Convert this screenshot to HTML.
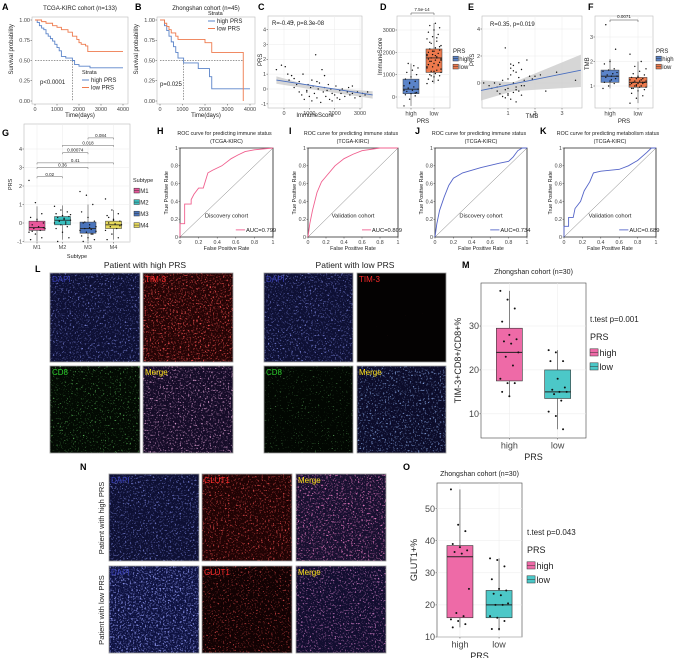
<!DOCTYPE html>
<html><head><meta charset="utf-8"><style>
html,body{margin:0;padding:0;background:#fff;}
svg{display:block;font-family:"Liberation Sans",Arial,sans-serif;}
</style></head><body>
<svg id="fig" width="677" height="658" viewBox="0 0 677 658" xmlns="http://www.w3.org/2000/svg">
<defs id="defs"></defs>
</svg>
<script>
// ---------- DATA ----------
const kmTimes_A_high=[0,100,200,300,400,500,600,700,800,900,1000,1100,1200,1400,1700,1800,2000,2500,4000];
const kmSurv_A_high=[1,0.97,0.93,0.9,0.88,0.83,0.8,0.77,0.74,0.7,0.66,0.62,0.55,0.53,0.5,0.45,0.43,0.41,0.41];
const kmTimes_A_low=[0,300,500,800,1000,1200,1500,1700,1900,2000,2100,2300,2400,4000];
const kmSurv_A_low=[1,0.98,0.96,0.93,0.91,0.88,0.85,0.8,0.76,0.72,0.7,0.68,0.61,0.61];
const kmTimes_B_high=[0,200,300,400,500,600,700,800,1050,1500,1700,2100,2200,2300,4000];
const kmSurv_B_high=[1,0.93,0.87,0.8,0.73,0.67,0.6,0.53,0.47,0.47,0.4,0.4,0.3,0.15,0.15];
const kmTimes_B_low=[0,200,300,400,500,700,800,2000,2300,3700,3700];
const kmSurv_B_low=[1,0.96,0.92,0.88,0.84,0.8,0.76,0.72,0.6,0.6,0];
const kmXTicks=[0,1000,2000,3000,4000];
const kmYTicks=[0,0.25,0.5,0.75,1];

const C_immune=[-300,-100,50,150,200,300,350,400,500,600,700,750,800,900,950,1000,1050,1100,1150,1200,1250,1300,1350,1400,1450,1500,1550,1600,1650,1700,1750,1800,1850,1900,2000,2050,2100,2200,2250,2300,2400,2500,2550,2600,2700,2800,2900,3000,3100,3200,3300,1600,1300,400,900,1900,2700,600,1100,2200];
const C_prs=[1.3,1.6,1.5,1.0,0.6,0.9,4.5,0.7,0.3,0.5,-0.4,1.0,-0.7,-0.2,0.3,-0.5,0.1,-0.8,0.2,-0.3,2.3,-0.6,0.0,0.4,-0.9,1.3,-0.2,0.1,-0.5,-0.1,0.3,-0.7,0.0,-0.3,-0.4,0.2,-0.6,-0.1,-0.3,0.0,-0.5,-0.2,0.1,-0.4,-0.3,-0.6,-0.2,-0.5,-0.3,-0.4,-0.2,0.9,0.5,0.1,-0.1,-0.8,0.2,-0.2,0.6,-0.7];

const D_high=[-400,-100,50,100,150,200,250,300,350,400,450,500,600,700,800,900,1000,1100,1200,1300,1500,1400,300,650,180];
const D_low=[600,700,750,800,900,950,1000,1050,1100,1150,1200,1300,1350,1400,1450,1500,1550,1600,1650,1700,1750,1800,1850,1900,1950,2000,2050,2100,2150,2200,2300,2400,2500,2600,2700,2800,2900,3000,3100,3200,3300,1250,1600,1750,1900,2050,1450,1700,1150,2250,2450,1850,1650,950,2650,1350];
const D_highStats=[-400,150,350,800,1500];
const D_lowStats=[600,1100,1750,2150,3300];

const E_tmb=[0.1,0.3,0.4,0.5,0.6,0.6,0.7,0.7,0.8,0.8,0.9,0.9,1.0,1.0,1.0,1.1,1.1,1.1,1.2,1.2,1.2,1.3,1.3,1.3,1.4,1.4,1.4,1.5,1.5,1.6,1.6,1.7,1.8,1.9,2.0,2.2,2.4,2.8,3.5,0.9,1.2,1.0,1.3,1.1,1.5];
const E_prs=[0.0,-0.2,-0.4,0.0,-0.3,-0.6,-0.8,-0.1,-1.0,0.2,-0.5,2.6,-0.9,0.3,-0.4,0.6,-1.2,1.1,-0.7,0.0,1.3,-0.3,0.8,-1.4,1.5,-0.6,0.4,1.0,-0.9,0.2,-0.2,1.7,0.5,0.3,0.5,0.6,-0.6,0.8,0.2,-1.1,0.9,-0.8,-0.5,1.4,-0.2];

const F_high=[0.9,1.0,1.1,1.15,1.2,1.3,1.35,1.4,1.4,1.45,1.5,1.6,1.65,1.7,1.9,2.0,2.5,3.5,1.25,1.55];
const F_low=[0.3,0.5,0.6,0.7,0.8,0.85,0.9,0.95,0.95,1.0,1.0,1.05,1.05,1.1,1.1,1.1,1.15,1.15,1.2,1.2,1.2,1.25,1.25,1.3,1.3,1.35,1.4,1.45,1.5,1.6,1.7,1.8,2.0,2.3,1.0,1.15,0.9,1.35];
const F_highStats=[0.9,1.15,1.4,1.65,2.1];
const F_lowStats=[0.3,0.95,1.15,1.35,2.0];

const G_cats=["M1","M2","M3","M4"];
const G_stats=[[-1.0,-0.4,-0.25,0.1,0.9],[-0.9,-0.1,0.15,0.35,0.95],[-1.0,-0.55,-0.3,0.05,1.0],[-0.9,-0.3,-0.1,0.1,0.7]];
const G_points=[[2.3,1.1,0.5,0.3,0.1,0.0,-0.1,-0.2,-0.3,-0.3,-0.4,-0.5,-0.6,-0.8,-0.9,0.2,-0.25,-0.45],
[0.9,0.7,0.6,0.5,0.4,0.35,0.3,0.2,0.15,0.1,0.05,0.0,-0.1,-0.2,-0.3,-0.5,-0.8,-1.0,0.25,0.45,0.1,-0.05],
[1.7,1.5,1.0,0.6,0.3,0.1,0.0,-0.1,-0.2,-0.3,-0.35,-0.4,-0.5,-0.6,-0.7,-0.8,-0.9,-1.0,-0.25,-0.45,0.05,-0.6],
[1.3,0.7,0.5,0.4,0.2,0.1,0.0,-0.05,-0.1,-0.2,-0.3,-0.4,-0.6,-0.8,-0.9,0.15,-0.15,0.3]];
const G_pvals=["0.02","0.36","0.41","0.00074","0.018","0.084"];
const G_pairs=[[0,1],[0,2],[0,3],[1,2],[1,3],[2,3]];
const G_pLevels=[2.5,3.0,3.25,3.8,4.2,4.6];

const rocH_fpr=[0,0,0.05,0.05,0.12,0.12,0.15,0.2,0.25,0.3,0.35,0.45,0.55,0.62,0.7,0.8,1];
const rocH_tpr=[0,0.15,0.15,0.37,0.37,0.42,0.48,0.55,0.55,0.72,0.75,0.8,0.88,0.92,0.96,0.98,1];
const rocI_fpr=[0,0.02,0.05,0.1,0.15,0.2,0.3,0.4,0.5,0.6,0.8,1];
const rocI_tpr=[0,0.15,0.3,0.5,0.62,0.68,0.8,0.88,0.93,0.97,1,1];
const rocJ_fpr=[0,0.02,0.05,0.1,0.15,0.2,0.3,0.5,0.7,0.8,0.85,0.9,0.95,1];
const rocJ_tpr=[0,0.15,0.3,0.45,0.58,0.66,0.72,0.78,0.83,0.85,0.9,0.97,1,1];
const rocK_fpr=[0,0,0.05,0.05,0.1,0.12,0.18,0.22,0.28,0.32,0.4,0.6,0.7,0.8,0.9,0.95,1];
const rocK_tpr=[0,0.12,0.12,0.22,0.22,0.32,0.4,0.52,0.62,0.72,0.74,0.76,0.8,0.86,0.95,1,1];
const rocTicks=[0,0.2,0.4,0.6,0.8,1];

const M_high=[38,36,34,31,28,27,26.5,26,24,23,21,18,17,17,15,14];
const M_low=[24.5,24,22,22,18,16,15.5,15,15,14.5,13,10.5,9.5,6.5];
const M_highStats=[14,17.5,24,29.5,38];
const M_lowStats=[6.5,13.5,15,20,24.5];
const M_ticks=[10,20,30];
const O_high=[56,45,43,39,38,37,36.5,36,25,17.5,16.5,15.5,15,14,13];
const O_low=[34.5,34,32,28,25,24.5,23.5,23,20.5,20,20,16.5,16,15,12.5,12.5];
const O_highStats=[13,16,35,38.5,56];
const O_lowStats=[12,16,20,24.5,34.5];
const O_ticks=[10,20,30,40,50];

// ---------- HELPERS ----------
const NS='http://www.w3.org/2000/svg';
const svg=document.getElementById('fig');
const defs=document.getElementById('defs');
function mk(tag,a,p){const e=document.createElementNS(NS,tag);for(const k in a)e.setAttribute(k,a[k]);(p||svg).appendChild(e);return e;}
function T(x,y,s,size,opt,p){opt=opt||{};const e=mk('text',{x:x,y:y,'font-size':size,fill:opt.fill||'#222','text-anchor':opt.anchor||'start'},p);
 if(opt.bold)e.setAttribute('font-weight','bold');
 if(opt.rot)e.setAttribute('transform','rotate(-90 '+x+' '+y+')');
 e.textContent=s;
 
 
 return e;}
function lin(d0,d1,r0,r1){return v=>r0+(v-d0)/(d1-d0)*(r1-r0);}
function G_(name){const g=mk('g',{});return g;}
function frame(g,x0,y0,x1,y1,col){const r=mk('rect',{x:x0,y:y0,width:x1-x0,height:y1-y0,fill:'none',stroke:col||'#555','stroke-width':0.6},g);}
function grid(g,sx,sy,xt,yt,x0,y0,x1,y1){xt.forEach(v=>{const l=mk('line',{x1:sx(v),x2:sx(v),y1:y0,y2:y1,stroke:'#ebebeb','stroke-width':0.5},g);});
 yt.forEach(v=>{const l=mk('line',{x1:x0,x2:x1,y1:sy(v),y2:sy(v),stroke:'#ebebeb','stroke-width':0.5},g);});}
function yTicks(g,sy,ticks,x,size,fmt){ticks.forEach(v=>{T(x-2,sy(v)+size*0.35,fmt?fmt(v):String(v),size,{anchor:'end',fill:'#444',name:'y-tick-label'},g);const l=mk('line',{x1:x-1.5,x2:x,y1:sy(v),y2:sy(v),stroke:'#444','stroke-width':0.5},g);});}
function xTicks(g,sx,ticks,y,size,labels){ticks.forEach((v,i)=>{T(sx(v),y+size+1.5,labels?labels[i]:String(v),size,{anchor:'middle',fill:'#444',name:'x-tick-label'},g);const l=mk('line',{x1:sx(v),x2:sx(v),y1:y,y2:y+1.5,stroke:'#444','stroke-width':0.5},g);});}
function dot(g,x,y,r,col){const c=mk('circle',{cx:x,cy:y,r:r||0.7,fill:col||'#111'},g);return c;}
function jit(i,w){return (((i*37)%11)/10-0.5)*w;}
function box(g,cx,w,sy,st,fill,lw){const wl=mk('line',{x1:cx,x2:cx,y1:sy(st[0]),y2:sy(st[4]),stroke:'#333','stroke-width':lw||0.5},g);
 const r=mk('rect',{x:cx-w/2,y:sy(st[3]),width:w,height:sy(st[1])-sy(st[3]),fill:fill,stroke:'#333','stroke-width':lw||0.5},g);
 const m=mk('line',{x1:cx-w/2,x2:cx+w/2,y1:sy(st[2]),y2:sy(st[2]),stroke:'#222','stroke-width':(lw||0.5)*1.6},g);}
function stepPath(ts,ss,sx,sy){let d='M'+sx(ts[0])+','+sy(ss[0]);for(let i=1;i<ts.length;i++){d+=' H'+sx(ts[i])+' V'+sy(ss[i]);}return d;}
function legendKey(g,x,y,col,lbl,size){const r=mk('rect',{x:x,y:y-size*0.8,width:size*0.9,height:size*0.8,fill:col,stroke:'#333','stroke-width':0.5},g);
 const l=mk('line',{x1:x,x2:x+size*0.9,y1:y-size*0.4,y2:y-size*0.4,stroke:'#333','stroke-width':0.5},g);
 T(x+size*1.05,y,lbl,size,{name:'legend-entry'},g);}
function letter(x,y,s){T(x,y,s,9,{bold:true,fill:'#000',name:'panel-letter-'+s});}

// ---------- A & B: KM ----------
function km(name,L,x0,y0,x1,y1,title,hiT,hiS,loT,loS,pTxt,pX,pY,legX,legY,dash){
 const g=G_(name);letter(L[0],L[1],L[2]);
 const sx=lin(0,4000,x0+3,x1-5), sy=lin(0,1,y1-3,y0+3);
 T((x0+x1)/2,10,title,6,{anchor:'middle',name:'plot-title'},g);
 frame(g,x0,y0,x1,y1,'#bbb');
 yTicks(g,sy,kmYTicks,x0,5.5,v=>v.toFixed(2));xTicks(g,sx,kmXTicks,y1,5.5);
 T((x0+x1)/2,y1+13,'Time(days)',6,{anchor:'middle',name:'x-axis-title'},g);
 T(x0-19,(y0+y1)/2+14,'Survival probability',6,{rot:true,name:'y-axis-title'},g);
 dash.forEach(dd=>{const l=mk('path',{d:dd(sx,sy),fill:'none',stroke:'#333','stroke-width':0.5,'stroke-dasharray':'1.5,1.2'},g);});
 const ph=mk('path',{d:stepPath(hiT,hiS,sx,sy),fill:'none',stroke:'#5b84c9','stroke-width':0.9},g);
 const pl=mk('path',{d:stepPath(loT,loS,sx,sy),fill:'none',stroke:'#ee7a4d','stroke-width':0.9},g);
 T(pX,pY,pTxt,6,{name:'p-value'},g);
 T(legX,legY,'Strata',5.5,{name:'legend-title'},g);
 [['high PRS','#5b84c9'],['low PRS','#ee7a4d']].forEach((e,i)=>{const l=mk('line',{x1:legX,x2:legX+7,y1:legY+6+i*7.5,y2:legY+6+i*7.5,stroke:e[1],'stroke-width':1},g);T(legX+9,legY+8+i*7.5,e[0],6,{name:'legend-entry'},g);});
}
km('panel-a-km',[2,10,'A'],32,17,128,104,'TCGA-KIRC cohort (n=133)',kmTimes_A_high,kmSurv_A_high,kmTimes_A_low,kmSurv_A_low,'p<0.0001',40,84,82,74,
 [(sx,sy)=>'M'+sx(0)+','+sy(0.5)+' H'+sx(1700)+' V'+sy(0)]);
km('panel-b-km',[135,10,'B'],157,17,255,104,'Zhongshan cohort (n=45)',kmTimes_B_high,kmSurv_B_high,kmTimes_B_low,kmSurv_B_low,'p=0.025',160,86,208,15,
 [(sx,sy)=>'M'+sx(0)+','+sy(0.5)+' H'+sx(3700)+' V'+sy(0),(sx,sy)=>'M'+sx(1050)+','+sy(0.5)+' V'+sy(0)]);

// ---------- C ----------
(function(){const g=G_('panel-c-scatter');letter(258,10,'C');
 const x0=268,x1=362,y0=16,y1=108;const sx=lin(0,3000,284,360),sy=lin(0,4,89,29.5);
 frame(g,x0,y0,x1,y1,'#bbb');grid(g,sx,sy,[0,1000,2000,3000],[-1,0,1,2,3,4],x0,y0,x1,y1);
 yTicks(g,sy,[-1,0,1,2,3,4],x0,5.5);xTicks(g,sx,[0,1000,2000,3000],y1,5.5);
 const band=mk('path',{d:'M'+sx(-300)+','+sy(0.85)+' L'+sx(1200)+','+sy(0.15)+' L'+sx(3500)+','+sy(-0.15)+' L'+sx(3500)+','+sy(-0.65)+' L'+sx(1200)+','+sy(-0.05)+' L'+sx(-300)+','+sy(0.35)+'Z',fill:'#ccc',opacity:0.8},g);
 C_immune.forEach((v,i)=>dot(g,sx(v),sy(C_prs[i])));
 const l=mk('line',{x1:sx(-300),y1:sy(0.6),x2:sx(3500),y2:sy(-0.4),stroke:'#4a6fc0','stroke-width':0.9},g);
 T(272,25,'R=-0.45, p=8.3e-08',6,{name:'correlation-text'},g);
 T(315,117,'ImmuneScore',6,{anchor:'middle',name:'x-axis-title'},g);
 T(262,66,'PRS',6,{rot:true,name:'y-axis-title'},g);
})();

// ---------- D ----------
(function(){const g=G_('panel-d-boxplot');letter(380,10,'D');
 const x0=397,x1=450,y0=16,y1=108;const sy=lin(0,3000,97,30);
 frame(g,x0,y0,x1,y1,'#bbb');grid(g,v=>v,sy,[411,434],[0,1000,2000,3000],x0,y0,x1,y1);
 yTicks(g,sy,[0,1000,2000,3000],x0,5.5);xTicks(g,v=>v,[411,434],y1,6,['high','low']);
 box(g,411,16,sy,D_highStats,'#5b84c9');box(g,434,16,sy,D_lowStats,'#ee7a4d');
 D_high.forEach((v,i)=>dot(g,411+jit(i,14),sy(v)));D_low.forEach((v,i)=>dot(g,434+jit(i,14),sy(v)));
 const b=mk('path',{d:'M411,15 V13 H434 V15',fill:'none',stroke:'#444','stroke-width':0.5},g);
 T(422,11,'7.5e-14',4.5,{anchor:'middle',name:'p-value'},g);
 T(423,123,'PRS',6,{anchor:'middle',name:'x-axis-title'},g);
 T(382,75,'ImmuneScore',6,{rot:true,name:'y-axis-title'},g);
 T(453,53,'PRS',6,{name:'legend-title'},g);legendKey(g,453,61,'#5b84c9','high',6);legendKey(g,453,69,'#ee7a4d','low',6);
})();

// ---------- E ----------
(function(){const g=G_('panel-e-scatter');letter(468,10,'E');
 const x0=482,x1=582,y0=16,y1=108;const sx=lin(1,2,508,535),sy=lin(0,4,83,29);
 frame(g,x0,y0,x1,y1,'#bbb');grid(g,sx,sy,[1,2,3],[0,2,4],x0,y0,x1,y1);
 yTicks(g,sy,[0,2,4],x0,5.5);xTicks(g,sx,[1,2,3],y1,5.5);
 const band=mk('path',{d:'M'+sx(0)+','+sy(0.2)+' L'+sx(1.2)+','+sy(0.05)+' L'+sx(3.7)+','+sy(2.1)+' L'+sx(3.7)+','+sy(-0.3)+' L'+sx(1.2)+','+sy(-0.6)+' L'+sx(0)+','+sy(-1.3)+'Z',fill:'#ccc',opacity:0.8},g);
 E_tmb.forEach((v,i)=>dot(g,sx(v),sy(E_prs[i])));
 const l=mk('line',{x1:sx(0),y1:sy(-0.55),x2:sx(3.7),y2:sy(0.95),stroke:'#4a6fc0','stroke-width':0.9},g);
 T(490,26,'R=0.35, p=0.019',6,{name:'correlation-text'},g);
 T(532,118,'TMB',6,{anchor:'middle',name:'x-axis-title'},g);
 T(474,66,'PRS',6,{rot:true,name:'y-axis-title'},g);
})();

// ---------- F ----------
(function(){const g=G_('panel-f-boxplot');letter(588,10,'F');
 const x0=595,x1=653,y0=16,y1=108;const sy=lin(1,3,86,37);
 frame(g,x0,y0,x1,y1,'#bbb');grid(g,v=>v,sy,[610,638],[1,2,3],x0,y0,x1,y1);
 yTicks(g,sy,[1,2,3],x0,5.5);xTicks(g,v=>v,[610,638],y1,6,['high','low']);
 box(g,610,18,sy,F_highStats,'#5b84c9');box(g,638,18,sy,F_lowStats,'#ee7a4d');
 F_high.forEach((v,i)=>dot(g,610+jit(i,14),sy(v)));F_low.forEach((v,i)=>dot(g,638+jit(i,16),sy(v)));
 const b=mk('path',{d:'M610,22 V20 H638 V22',fill:'none',stroke:'#444','stroke-width':0.5},g);
 T(624,18,'0.0071',4.5,{anchor:'middle',name:'p-value'},g);
 T(624,123,'PRS',6,{anchor:'middle',name:'x-axis-title'},g);
 T(589,70,'TMB',6,{rot:true,name:'y-axis-title'},g);
 T(656,53,'PRS',6,{name:'legend-title'},g);legendKey(g,656,61,'#5b84c9','high',6);legendKey(g,656,69,'#ee7a4d','low',6);
})();

// ---------- G ----------
(function(){const g=G_('panel-g-boxplot');letter(2,136,'G');
 const x0=24,x1=130,y0=124,y1=242;const sy=lin(0,4,223,149);const sx=i=>37+i*25.5;
 const cols=['#e8579b','#39bfbf','#4a74bb','#e6d95a'];
 frame(g,x0,y0,x1,y1,'#bbb');grid(g,sx,sy,[0,1,2,3],[-1,0,1,2,3,4],x0,y0,x1,y1);
 yTicks(g,sy,[-1,0,1,2,3,4],x0,5.5);xTicks(g,sx,[0,1,2,3],y1,5.5,G_cats);
 G_stats.forEach((st,i)=>box(g,sx(i),16,sy,st,cols[i]));
 G_points.forEach((arr,i)=>arr.forEach((v,j)=>dot(g,sx(i)+jit(j,16),sy(v))));
 G_pairs.forEach((p,k)=>{const y=sy(G_pLevels[k]);const b=mk('path',{d:'M'+sx(p[0])+','+(y+1.5)+' V'+y+' H'+sx(p[1])+' V'+(y+1.5),fill:'none',stroke:'#666','stroke-width':0.5},g);
  T((sx(p[0])+sx(p[1]))/2,y-1,G_pvals[k],4.5,{anchor:'middle',name:'p-value'},g);});
 T(77,258,'Subtype',5.5,{anchor:'middle',name:'x-axis-title'},g);
 T(12,190,'PRS',5.5,{rot:true,name:'y-axis-title'},g);
 T(133,182,'Subtype',5.5,{name:'legend-title'},g);
 G_cats.forEach((c,i)=>legendKey(g,134,193+i*11.5,cols[i],c,6));
})();

// ---------- H-K ROC ----------
function roc(name,L,x0,x1,title,fpr,tpr,col,cohort,auc){
 const g=G_(name);letter(L[0],L[1],L[2]);
 const y0=148,y1=237;const sx=lin(0,1,x0,x1),sy=lin(0,1,y1,y0);
 T((x0+x1)/2-2,135,title,5.3,{anchor:'middle',name:'plot-title'},g);
 T((x0+x1)/2,143,'(TCGA-KIRC)',5.3,{anchor:'middle',name:'plot-subtitle'},g);
 yTicks(g,sy,rocTicks,x0,5.3);xTicks(g,sx,rocTicks,y1,5.3);
 const ax=mk('path',{d:'M'+x0+','+y0+' V'+y1+' H'+x1+' V'+y0+' Z',fill:'none',stroke:'#222','stroke-width':0.8},g);
 const dg=mk('line',{x1:sx(0),y1:sy(0),x2:sx(1),y2:sy(1),stroke:'#555','stroke-width':0.4},g);
 const p=mk('polyline',{points:fpr.map((v,i)=>sx(v)+','+sy(tpr[i])).join(' '),fill:'none',stroke:col,'stroke-width':0.9},g);
 T(sx(0.5),sy(0.22),cohort,5.8,{anchor:'middle',name:'cohort-label'},g);
 const lk=mk('line',{x1:sx(0.6),x2:sx(0.7),y1:sy(0.08),y2:sy(0.08),stroke:col,'stroke-width':0.9},g);
 T(sx(0.71),sy(0.08)+2,'AUC='+auc,5.8,{name:'auc-label'},g);
 T((x0+x1)/2,y1+13,'False Positive Rate',5.3,{anchor:'middle',name:'x-axis-title'},g);
 T(x0-12,(y0+y1)/2+22,'True Positive Rate',5.3,{rot:true,name:'y-axis-title'},g);
}
roc('panel-h-roc',[157,134,'H'],180,273,'ROC curve for predicting immune status',rocH_fpr,rocH_tpr,'#f0608f','Discovery cohort','0.799');
roc('panel-i-roc',[289,134,'I'],308,398,'ROC curve for predicting immune status',rocI_fpr,rocI_tpr,'#f0608f','Validation cohort','0.809');
roc('panel-j-roc',[415,134,'J'],435,527,'ROC curve for predicting immune status',rocJ_fpr,rocJ_tpr,'#5565c8','Discovery cohort','0.734');
roc('panel-k-roc',[540,134,'K'],564,656,'ROC curve for predicting metabolism status',rocK_fpr,rocK_tpr,'#5565c8','Validation cohort','0.689');

// ---------- Micrographs ----------
let fid=0;
function micro(name,x,y,w,h,bg,spec,alphaK,label,lcol){
 const g=G_(name);
 const r=mk('rect',{x:x,y:y,width:w,height:h,fill:bg},g);
 const id='f'+(fid++);
 const f=mk('filter',{id:id,x:0,y:0,width:1,height:1},defs);
 mk('feTurbulence',{type:'fractalNoise',baseFrequency:'0.6',numOctaves:'2',seed:String(fid*7)},f);
 mk('feColorMatrix',{type:'matrix',values:'0 0 0 0 '+spec[0]+' 0 0 0 0 '+spec[1]+' 0 0 0 0 '+spec[2]+' '+alphaK[0]+' 0 0 0 '+alphaK[1]},f);
 const n=mk('rect',{x:x,y:y,width:w,height:h,fill:'#fff',filter:'url(#'+id+')'},g);
 const bd=mk('rect',{x:x,y:y,width:w,height:h,fill:'none',stroke:'#999','stroke-width':0.8},g);
 T(x+2,y+9,label,8,{fill:lcol,name:'channel-label'},g);
}
const B=['#0e1034',[0.22,0.26,0.8],[4,-2.3]];
letter(35,272,'L');
T(145,268,'Patient with high PRS',8.5,{anchor:'middle',name:'group-title'});
T(355,268,'Patient with low PRS',8.5,{anchor:'middle',name:'group-title'});
micro('dapi-high',50,273,90,89,B[0],B[1],B[2],'DAPI','#3a40b8');
micro('tim3-high',143,273,90,89,'#240405',[0.9,0.08,0.08],[4,-2.2],'TIM-3','#ff2a2a');
micro('cd8-high',50,366,90,87,'#030a03',[0.15,0.75,0.15],[4,-2.5],'CD8','#2cd12c');
micro('merge-high',143,366,90,87,'#150c28',[0.75,0.35,0.65],[4,-2.3],'Merge','#ffe21a');
micro('dapi-low',264,273,89,89,B[0],B[1],B[2],'DAPI','#3a40b8');
micro('tim3-low',357,273,89,89,'#040202',[1,0.1,0.1],[4,-3.5],'TIM-3','#ff2a2a');
micro('cd8-low',264,366,89,87,'#020702',[0.15,0.6,0.15],[4,-2.7],'CD8','#2cd12c');
micro('merge-low',357,366,89,87,'#0c0c2a',[0.25,0.4,0.8],[4,-2.3],'Merge','#ffe21a');

letter(80,470,'N');
micro('dapi-glut1-high',109,474,90,87,B[0],B[1],B[2],'DAPI','#3a40b8');
micro('glut1-high',202,474,90,87,'#200304',[0.9,0.08,0.08],[4,-2.3],'GLUT1','#ff2a2a');
micro('merge-glut1-high',296,474,90,87,'#181030',[0.85,0.2,0.55],[4,-2.2],'Merge','#ffe21a');
micro('dapi-glut1-low',109,566,90,87,'#0e1240',[0.28,0.32,0.9],[4,-2.1],'DAPI','#3a40b8');
micro('glut1-low',202,566,90,87,'#120203',[0.9,0.08,0.08],[4,-2.4],'GLUT1','#ff2a2a');
micro('merge-glut1-low',296,566,90,87,'#120e30',[0.7,0.22,0.6],[4,-2.3],'Merge','#ffe21a');
T(104,518,'Patient with high PRS',7.5,{anchor:'middle',rot:true,name:'row-label'});
T(104,610,'Patient with low PRS',7.5,{anchor:'middle',rot:true,name:'row-label'});

// ---------- M & O ----------
function bigBox(name,L,x0,x1,y0,y1,dMin,dMax,ticks,title,ylab,hi,lo,hiSt,loSt,pTxt,legX,pY){
 const g=G_(name);letter(L[0],L[1],L[2]);
 const sy=lin(dMin,dMax,y1,y0);const cx=[x0+(x1-x0)*0.27,x0+(x1-x0)*0.73];
 T((x0+x1)/2,L[1]+6,title,7,{anchor:'middle',name:'plot-title'},g);
 frame(g,x0,y0,x1,y1,'#444');grid(g,v=>v,sy,cx,ticks,x0,y0,x1,y1);
 yTicks(g,sy,ticks,x0,9);xTicks(g,v=>v,cx,y1,9,['high','low']);
 box(g,cx[0],26,sy,hiSt,'#ee6aa7',0.6);box(g,cx[1],26,sy,loSt,'#4cc8c8',0.6);
 hi.forEach((v,i)=>dot(g,cx[0]+jit(i,18),sy(v),1));lo.forEach((v,i)=>dot(g,cx[1]+jit(i,18),sy(v),1));
 T((x0+x1)/2,y1+22,'PRS',9,{anchor:'middle',name:'x-axis-title'},g);
 T(x0-20,(y0+y1)/2,ylab,9,{anchor:'middle',rot:true,name:'y-axis-title'},g);
 T(legX,pY,pTxt,8,{name:'test-p-value'},g);
 T(legX,pY+18,'PRS',9,{name:'legend-title'},g);
 legendKey(g,legX,pY+34,'#ee6aa7','high',9);legendKey(g,legX,pY+48,'#4cc8c8','low',9);
}
bigBox('panel-m-boxplot',[462,268,'M'],481,586,283,438,4.5,39.8,M_ticks,'Zhongshan cohort (n=30)','TIM-3+CD8+/CD8+%',M_high,M_low,M_highStats,M_lowStats,'t.test p=0.001',590,322);
bigBox('panel-o-boxplot',[403,470,'O'],437,522,483,637,10,58,O_ticks,'Zhongshan cohort (n=30)','GLUT1+%',O_high,O_low,O_highStats,O_lowStats,'t.test p=0.043',527,535);
</script>
</body></html>
